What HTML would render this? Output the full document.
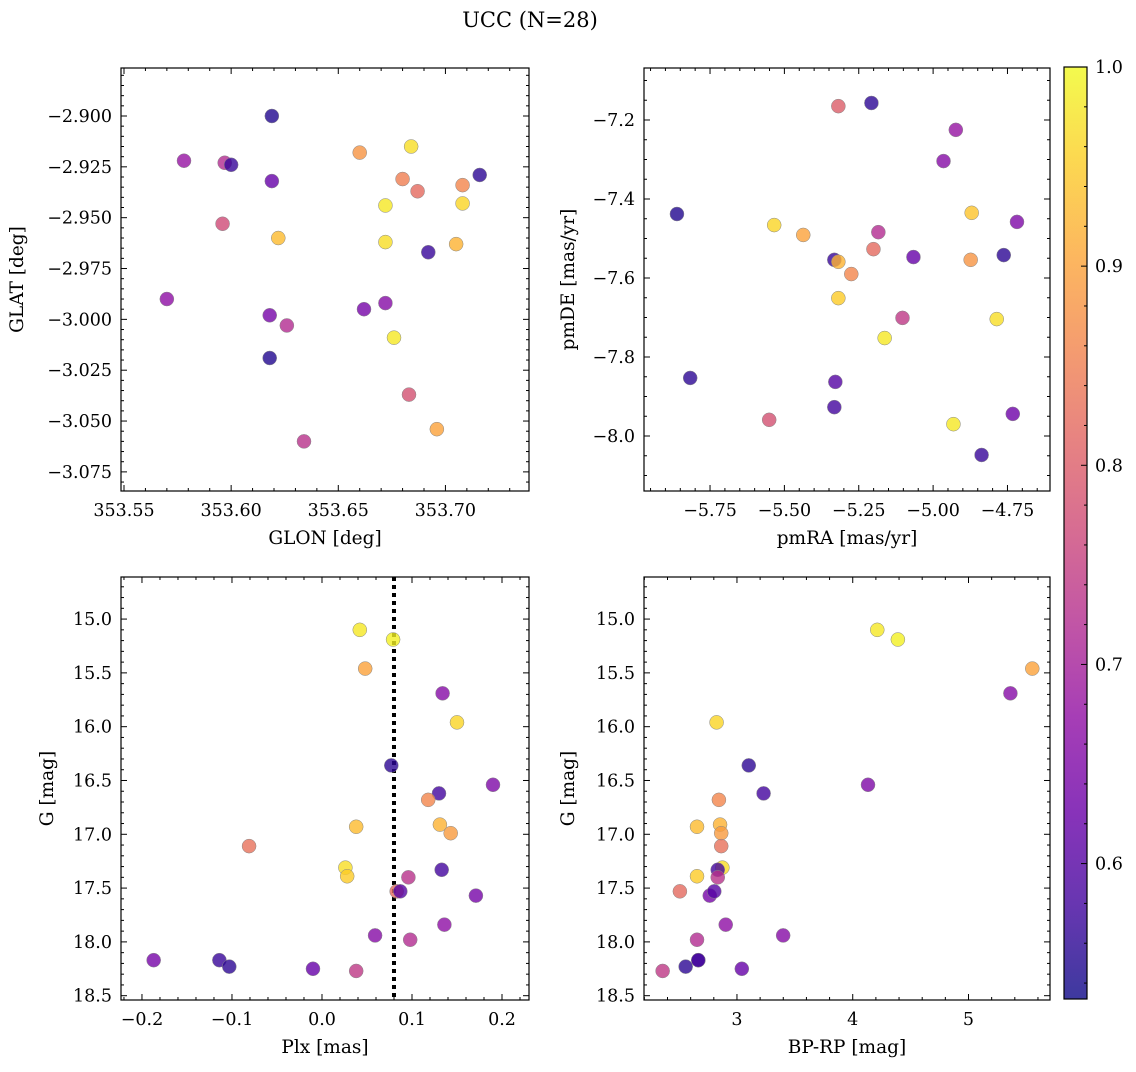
<!DOCTYPE html>
<html><head><meta charset="utf-8"><style>
body{margin:0;background:#fff;}
svg{font-family:"DejaVu Serif","Liberation Serif",serif;}
</style></head><body>
<svg id="c" width="1136" height="1067" xmlns="http://www.w3.org/2000/svg">
<defs>
<linearGradient id="plasma" x1="0" y1="1" x2="0" y2="0"></linearGradient>
</defs>
<text x="530" y="27" font-size="21" text-anchor="middle">UCC (N=28)</text>
</svg>
<script>
// ---- data ----
const glon=[353.619,353.578,353.597,353.600,353.619,353.660,353.684,353.680,353.687,353.716,353.708,353.672,353.708,353.596,353.622,353.672,353.705,353.692,353.570,353.618,353.626,353.662,353.672,353.676,353.618,353.683,353.634,353.696];
const glat=[-2.900,-2.922,-2.923,-2.924,-2.932,-2.918,-2.915,-2.931,-2.937,-2.929,-2.934,-2.944,-2.943,-2.953,-2.960,-2.962,-2.963,-2.967,-2.990,-2.998,-3.003,-2.995,-2.992,-3.009,-3.019,-3.037,-3.060,-3.054];
const probA=[0.55,0.68,0.72,0.57,0.62,0.88,0.97,0.85,0.82,0.56,0.86,0.98,0.96,0.77,0.93,0.97,0.92,0.57,0.67,0.64,0.72,0.64,0.66,0.98,0.55,0.78,0.73,0.90];
const pmra=[-5.3186,-5.2074,-4.9236,-4.965,-5.8612,-5.5343,-5.4366,-4.8703,-4.718,-5.1841,-5.3321,-5.3186,-5.2006,-5.2751,-5.0661,-4.8737,-4.7625,-5.3186,-5.1029,-4.7861,-5.1629,-5.8167,-5.3287,-5.3321,-5.5511,-4.9317,-4.7321,-4.837];
const pmde=[-7.165,-7.157,-7.225,-7.304,-7.438,-7.466,-7.491,-7.435,-7.458,-7.484,-7.554,-7.559,-7.527,-7.59,-7.547,-7.554,-7.542,-7.651,-7.701,-7.704,-7.752,-7.853,-7.863,-7.927,-7.959,-7.97,-7.944,-8.048];
const probB=[0.80,0.56,0.68,0.66,0.55,0.96,0.90,0.94,0.65,0.72,0.57,0.92,0.82,0.86,0.62,0.88,0.56,0.95,0.74,0.97,0.98,0.56,0.60,0.58,0.78,0.98,0.63,0.57];
const plx=[0.042,0.079,0.048,0.134,0.15,0.077,0.13,0.19,0.118,0.038,0.131,0.143,-0.081,0.026,0.028,0.133,0.171,0.096,0.083,0.087,0.059,0.136,0.098,-0.187,-0.114,-0.103,-0.01,0.038];
const gmag=[15.10,15.19,15.46,15.69,15.96,16.36,16.62,16.54,16.68,16.93,16.91,16.99,17.11,17.31,17.39,17.33,17.57,17.40,17.53,17.53,17.94,17.84,17.98,18.17,18.17,18.23,18.25,18.27];
const bprp=[4.212,4.390,5.551,5.362,2.824,3.102,3.230,4.132,2.844,2.655,2.854,2.864,2.864,2.874,2.655,2.834,2.765,2.834,2.507,2.804,3.399,2.903,2.655,2.666,2.666,2.557,3.042,2.358];
const probC=[0.98,0.99,0.90,0.66,0.96,0.56,0.58,0.65,0.86,0.93,0.92,0.89,0.83,0.97,0.95,0.58,0.64,0.73,0.82,0.60,0.66,0.67,0.72,0.64,0.57,0.56,0.62,0.74];
const probD=[0.98,0.99,0.90,0.66,0.96,0.56,0.58,0.65,0.86,0.93,0.92,0.89,0.83,0.97,0.95,0.58,0.64,0.73,0.82,0.60,0.66,0.67,0.72,0.64,0.57,0.56,0.62,0.74];
const plxLine=0.080;
const cbTicks=[0.6,0.7,0.8,0.9,1.0];

const NS="http://www.w3.org/2000/svg";
const svg=document.getElementById('c');
function mk(t,a,p){const e=document.createElementNS(NS,t);for(const k in a)e.setAttribute(k,a[k]);(p||svg).appendChild(e);return e;}
const stops=[[0,'#0d0887'],[0.1,'#41049d'],[0.2,'#6a00a8'],[0.3,'#8f0da4'],[0.4,'#b12a90'],[0.5,'#cc4778'],[0.6,'#e16462'],[0.7,'#f2844b'],[0.8,'#fca636'],[0.9,'#fcce25'],[1,'#f0f921']];
const vmin=0.532,vmax=1.0;
function hex(h){return [1,3,5].map(i=>parseInt(h.substr(i,2),16));}
function cmap(v){let t=(v-vmin)/(vmax-vmin);t=Math.max(0,Math.min(1,t));
 for(let i=0;i<stops.length-1;i++){if(t<=stops[i+1][0]){const f=(t-stops[i][0])/(stops[i+1][0]-stops[i][0]);const a=hex(stops[i][1]),b=hex(stops[i+1][1]);return 'rgb('+a.map((x,j)=>Math.round(x+(b[j]-x)*f)).join(',')+')';}}
 return stops[10][1];}
const grad=document.getElementById('plasma');
stops.forEach(s=>mk('stop',{offset:s[0],'stop-color':s[1]},grad));
function fmt(v,d){return (v<-1e-9?'\u2212':'')+Math.abs(v).toFixed(d);}

function panel(o){
 const {x0,x1,y0,y1,xr,yr,inv}=o;
 const X=v=>x0+(v-xr[0])/(xr[1]-xr[0])*(x1-x0);
 const Y=inv?(v=>y0+(v-yr[0])/(yr[1]-yr[0])*(y1-y0)):(v=>y1-(v-yr[0])/(yr[1]-yr[0])*(y1-y0));
 const g=mk('g',{});
 
 
 function ticks(axis,lo,hi,step,minor,dec){
  const a=Math.min(lo,hi),b=Math.max(lo,hi);
  for(let k=Math.ceil(a/minor-1e-6);k*minor<=b+1e-9;k++){
   const v=k*minor;const isMaj=Math.abs(v/step-Math.round(v/step))<1e-6;const L=isMaj?6:3;
   if(axis==='x'){const p=X(v);mk('line',{x1:p,x2:p,y1:y1,y2:y1-L,stroke:'#000','stroke-width':1},g);mk('line',{x1:p,x2:p,y1:y0,y2:y0+L,stroke:'#000','stroke-width':1},g);
    if(isMaj){const t=mk('text',{x:p,y:y1+25,'font-size':17.5,'text-anchor':'middle'},g);t.textContent=fmt(v,dec);}}
   else{const p=Y(v);mk('line',{x1:x0,x2:x0+L,y1:p,y2:p,stroke:'#000','stroke-width':1},g);mk('line',{x1:x1,x2:x1-L,y1:p,y2:p,stroke:'#000','stroke-width':1},g);
    if(isMaj){const t=mk('text',{x:x0-9,y:p+6,'font-size':17.5,'text-anchor':'end'},g);t.textContent=fmt(v,dec);}}
  }
 }
 ticks('x',xr[0],xr[1],o.xs[0],o.xs[1],o.xs[2]);
 ticks('y',yr[0],yr[1],o.ys[0],o.ys[1],o.ys[2]);
 if(o.vline!==undefined){const l=mk('line',{x1:X(o.vline),x2:X(o.vline),y1:y0,y2:y1,stroke:'#000','stroke-width':4,'stroke-dasharray':'4 4'},g);}
 o.xd.forEach((v,i)=>{const c=mk('circle',{cx:X(v),cy:Y(o.yd[i]),r:7,fill:cmap(o.pd[i]),'fill-opacity':0.8,stroke:'#888','stroke-width':0.5},g);
  
  });
 const f=mk('rect',{x:x0,y:y0,width:x1-x0,height:y1-y0,fill:'none',stroke:'#000','stroke-width':1.2},g);
 
 const xl=mk('text',{x:(x0+x1)/2,y:y1+53,'font-size':18.5,'text-anchor':'middle'},g);xl.textContent=o.xlab;
 
 const yx=o.ylx,yy=(y0+y1)/2;
 const yl=mk('text',{x:yx,y:yy,'font-size':18.5,'text-anchor':'middle',transform:`rotate(-90 ${yx} ${yy})`},g);yl.textContent=o.ylab;
 
}
panel({name:'glon-glat-panel',x0:121,x1:529,y0:68,y1:491,xr:[353.5486,353.739],yr:[-3.0844,-2.8764],xs:[0.05,0.01,2],ys:[0.025,0.005,3],xd:glon,yd:glat,pd:probA,xlab:'GLON [deg]',ylab:'GLAT [deg]',ylx:23});
panel({name:'pm-panel',x0:644,x1:1050,y0:68,y1:491,xr:[-5.972,-4.607],yr:[-8.1392,-7.0684],xs:[0.25,0.05,2],ys:[0.2,0.05,1],xd:pmra,yd:pmde,pd:probB,xlab:'pmRA [mas/yr]',ylab:'pmDE [mas/yr]',ylx:574});
panel({name:'plx-g-panel',x0:121,x1:529,y0:577,y1:1000,xr:[-0.2233,0.23],yr:[14.609,18.54],inv:true,xs:[0.1,0.02,1],ys:[0.5,0.1,1],xd:plx,yd:gmag,pd:probC,xlab:'Plx [mas]',ylab:'G [mag]',ylx:53,vline:plxLine});
panel({name:'cmd-panel',x0:644,x1:1050,y0:577,y1:1000,xr:[2.197,5.704],yr:[14.609,18.54],inv:true,xs:[1,0.2,0],ys:[0.5,0.1,1],xd:bprp,yd:gmag,pd:probD,xlab:'BP-RP [mag]',ylab:'G [mag]',ylx:574});
// colorbar
const cb=mk('g',{});


const cy0=67,cy1=999,CY=v=>cy1-(v-vmin)/(vmax-vmin)*(cy1-cy0);
mk('rect',{x:1064,y:cy0,width:23,height:cy1-cy0,fill:'url(#plasma)','fill-opacity':0.8},cb);
mk('rect',{x:1064,y:cy0,width:23,height:cy1-cy0,fill:'none',stroke:'#000','stroke-width':1.2},cb);
for(let k=27;k<=50;k++){const v=k*0.02;if(v<vmin||v>vmax+1e-9)continue;const maj=Math.abs(v*10-Math.round(v*10))<1e-6;const p=CY(v);
 mk('line',{x1:1087,x2:1087-(maj?6:3),y1:p,y2:p,stroke:'#000','stroke-width':1},cb);}
cbTicks.forEach(v=>{const t=mk('text',{x:1095,y:CY(v)+6,'font-size':17.5},cb);t.textContent=v.toFixed(1);
 });
</script>
</body></html>
